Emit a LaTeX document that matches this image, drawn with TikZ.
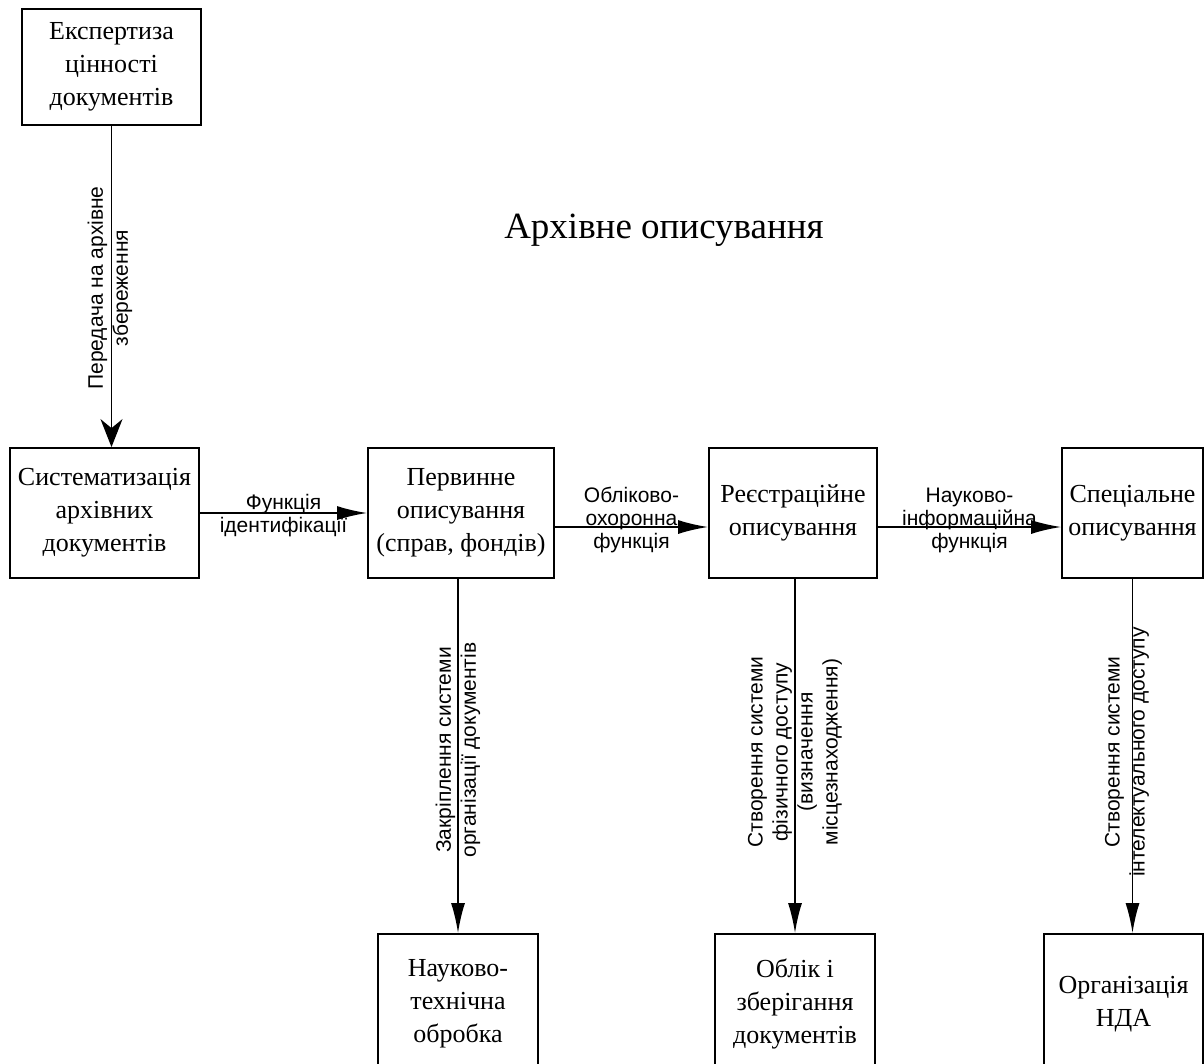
\documentclass[tikz,border=0pt]{standalone}
\usepackage{fontspec}
\setmainfont{Liberation Serif}
\newfontfamily\lsans{Liberation Sans}
\usetikzlibrary{arrows.meta}
\begin{document}
\begin{tikzpicture}[x=1pt,y=-1pt,
  box/.style={draw,line width=1.8pt,inner sep=0pt,align=center,font=\fontsize{26}{33}\selectfont},
  lbl/.style={font=\lsans\fontsize{21}{23}\selectfont,align=center,inner sep=0pt},
  vlbl/.style={align=center,inner sep=0pt,rotate=90,font=\lsans\fontsize{21}{25}\selectfont},
  arr/.style={line width=1.8pt,-{Latex[length=30pt,width=14pt]}},
  arrst/.style={line width=1.8pt,-{Stealth[length=28pt,width=22pt,inset=9pt]}}]
\useasboundingbox (0,0) rectangle (1204,1063);
\clip (0,0) rectangle (1204,1063);
% boxes
\node[box,minimum width=179pt,minimum height=116pt] (b1) at (111.5,67) {Експертиза\\цінності\\документів};
\node[box,minimum width=189pt,minimum height=130pt] (b2) at (104.5,513) {Систематизація\\архівних\\документів};
\node[box,minimum width=186pt,minimum height=130pt] (b3) at (461,513) {Первинне\\описування\\(справ, фондів)};
\node[box,minimum width=168pt,minimum height=130pt] (b4) at (793,513) {Реєстраційне\\описування};
\node[box,minimum width=141pt,minimum height=130pt] (b5) at (1132.5,513) {Спеціальне\\описування};
\node[box,minimum width=160pt,minimum height=140pt] (c1) at (458,1004) {Науково-\\технічна\\обробка};
\node[box,minimum width=160pt,minimum height=140pt] (c2) at (795,1004) {Облік і\\зберігання\\документів};
\node[box,minimum width=159pt,minimum height=140pt] (c3) at (1123.5,1004) {Організація\\НДА};
% title
\node[font=\fontsize{37}{40}\selectfont,inner sep=0pt] (title) at (664,230) {Архівне описування};
% connectors
\draw[arrst] (b1.south) -- (b1.south |- b2.north);
\draw[arr] (b2.east) -- (b3.west);
\draw[arr] ([yshift=-14pt]b3.east) -- ([yshift=-14pt]b4.west);
\draw[arr] ([yshift=-14pt]b4.east) -- ([yshift=-14pt]b5.west);
\draw[arr] (c1.north |- b3.south) -- (c1.north);
\draw[arr] (c2.north |- b4.south) -- (c2.north);
\draw[arr] (b5.south) -- (b5.south |- c3.north);
% labels
\node[vlbl] (l1) at (110,288) {Передача на архівне\\збереження};
\node[lbl] (l2) at (283.5,516) {Функція\\ідентифікації};
\node[lbl] (l3) at (631.5,520) {Обліково-\\охоронна\\функція};
\node[lbl] (l4) at (969.5,520) {Науково-\\інформаційна\\функція};
\node[vlbl] (l5) at (458,750) {Закріплення системи\\організації документів};
\node[vlbl] (l6) at (795,752) {Створення системи\\фізичного доступу\\(визначення\\місцезнаходження)};
\node[vlbl] (l7) at (1127,752) {Створення системи\\інтелектуального доступу};
\end{tikzpicture}
\end{document}
